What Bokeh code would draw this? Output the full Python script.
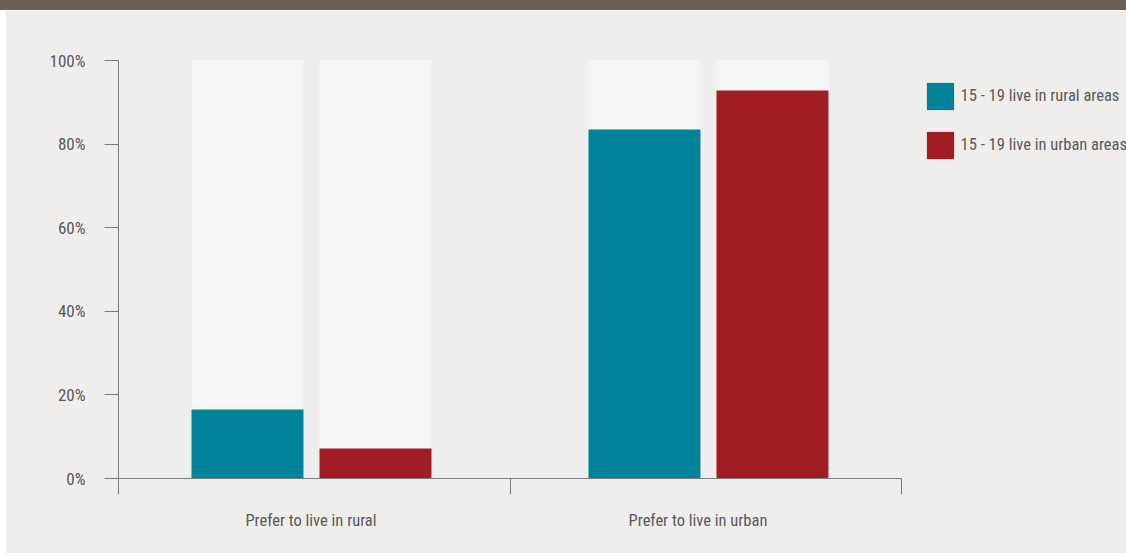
from bokeh.plotting import figure
from bokeh.models import FixedTicker, Range1d, Legend, LegendItem, Div
from bokeh.layouts import column
from bokeh.embed import file_html
from bokeh.resources import INLINE

# ---- data ----
categories = ["Prefer to live in rural", "Prefer to live in urban"]
series_names = ["15 - 19 live in rural areas", "15 - 19 live in urban areas"]
rural_area_values = [16.5, 83.5]   # 15-19 living in rural areas
urban_area_values = [7.2, 92.8]    # 15-19 living in urban areas
y_ticks = [0, 20, 40, 60, 80, 100]
y_tick_labels = ["0%", "20%", "40%", "60%", "80%", "100%"]

# ---- style ----
FONT = "Roboto Condensed"
TEXT = "#595959"
AXIS = "#7a7a7a"
BG = "#efeeec"
TEAL = "#00829a"
RED = "#a11d24"
TRACK = "#f5f5f5"
BAR_W = 0.286
GROUP_STEP = 1.014
OFFSETS = [0.3295, 0.6564]
LABEL_STEP = 0.9885
LABEL_OFFSET = 0.4917
PX_PER_UNIT = 391.5
FRAME_W = 1008

n = len(categories)
idx = list(range(n))
x_rural = [i * GROUP_STEP + OFFSETS[0] for i in idx]
x_urban = [i * GROUP_STEP + OFFSETS[1] for i in idx]
label_pos = [i * LABEL_STEP + LABEL_OFFSET for i in idx]

p = figure(width=1121, height=543, output_backend="svg", toolbar_location=None,
           x_range=Range1d(0, FRAME_W / PX_PER_UNIT), y_range=Range1d(0, 100),
           min_border_left=113, min_border_right=0, min_border_top=50, min_border_bottom=75,
           background_fill_color=BG, border_fill_color=BG, outline_line_color=None,
           margin=(0, 0, 0, 5))
p.grid.visible = False

# background tracks to 100%
p.vbar(x=x_rural + x_urban, top=[100] * (2 * n), width=BAR_W,
       color=TRACK, line_color=None)

r1 = p.vbar(x=x_rural, top=rural_area_values, width=BAR_W, color=TEAL, line_color=None)
r2 = p.vbar(x=x_urban, top=urban_area_values, width=BAR_W, color=RED, line_color=None)

# x axis
xa = p.xaxis[0]
xa.bounds = (0, n)
xa.ticker = FixedTicker(ticks=label_pos, minor_ticks=list(range(n + 1)))
xa.major_label_overrides = {pos: c for pos, c in zip(label_pos, categories)}
xa.major_tick_out = 0
xa.major_tick_in = 0
xa.minor_tick_out = 16
xa.minor_tick_in = 0
xa.minor_tick_line_color = AXIS
xa.axis_line_color = AXIS
xa.major_label_standoff = 16
xa.major_label_text_font = FONT
xa.major_label_text_font_size = "16.5px"
xa.major_label_text_color = TEXT

# y axis
ya = p.yaxis[0]
ya.ticker = FixedTicker(ticks=y_ticks)
ya.major_label_overrides = {t: l for t, l in zip(y_ticks, y_tick_labels)}
ya.major_tick_out = 14
ya.major_tick_in = 0
ya.minor_tick_out = 0
ya.minor_tick_in = 0
ya.major_tick_line_color = AXIS
ya.axis_line_color = AXIS
ya.major_label_standoff = 19
ya.major_label_text_font = FONT
ya.major_label_text_font_size = "17px"
ya.major_label_text_color = TEXT

legend = Legend(items=[LegendItem(label=series_names[0], renderers=[r1]),
                       LegendItem(label=series_names[1], renderers=[r2])],
                location=(804.6, 316.4), orientation="vertical",
                glyph_width=34, glyph_height=34, spacing=15, padding=0, margin=0,
                label_standoff=4, label_text_font=FONT, label_text_font_size="16.5px",
                label_text_color=TEXT, background_fill_alpha=0, border_line_color=None)
p.add_layout(legend)

band = Div(width=1126, height=10, margin=0, styles={"background-color": "#6e6058"})
layout = column(band, p, spacing=0)

open("out.html", "w").write(file_html(layout, INLINE))
